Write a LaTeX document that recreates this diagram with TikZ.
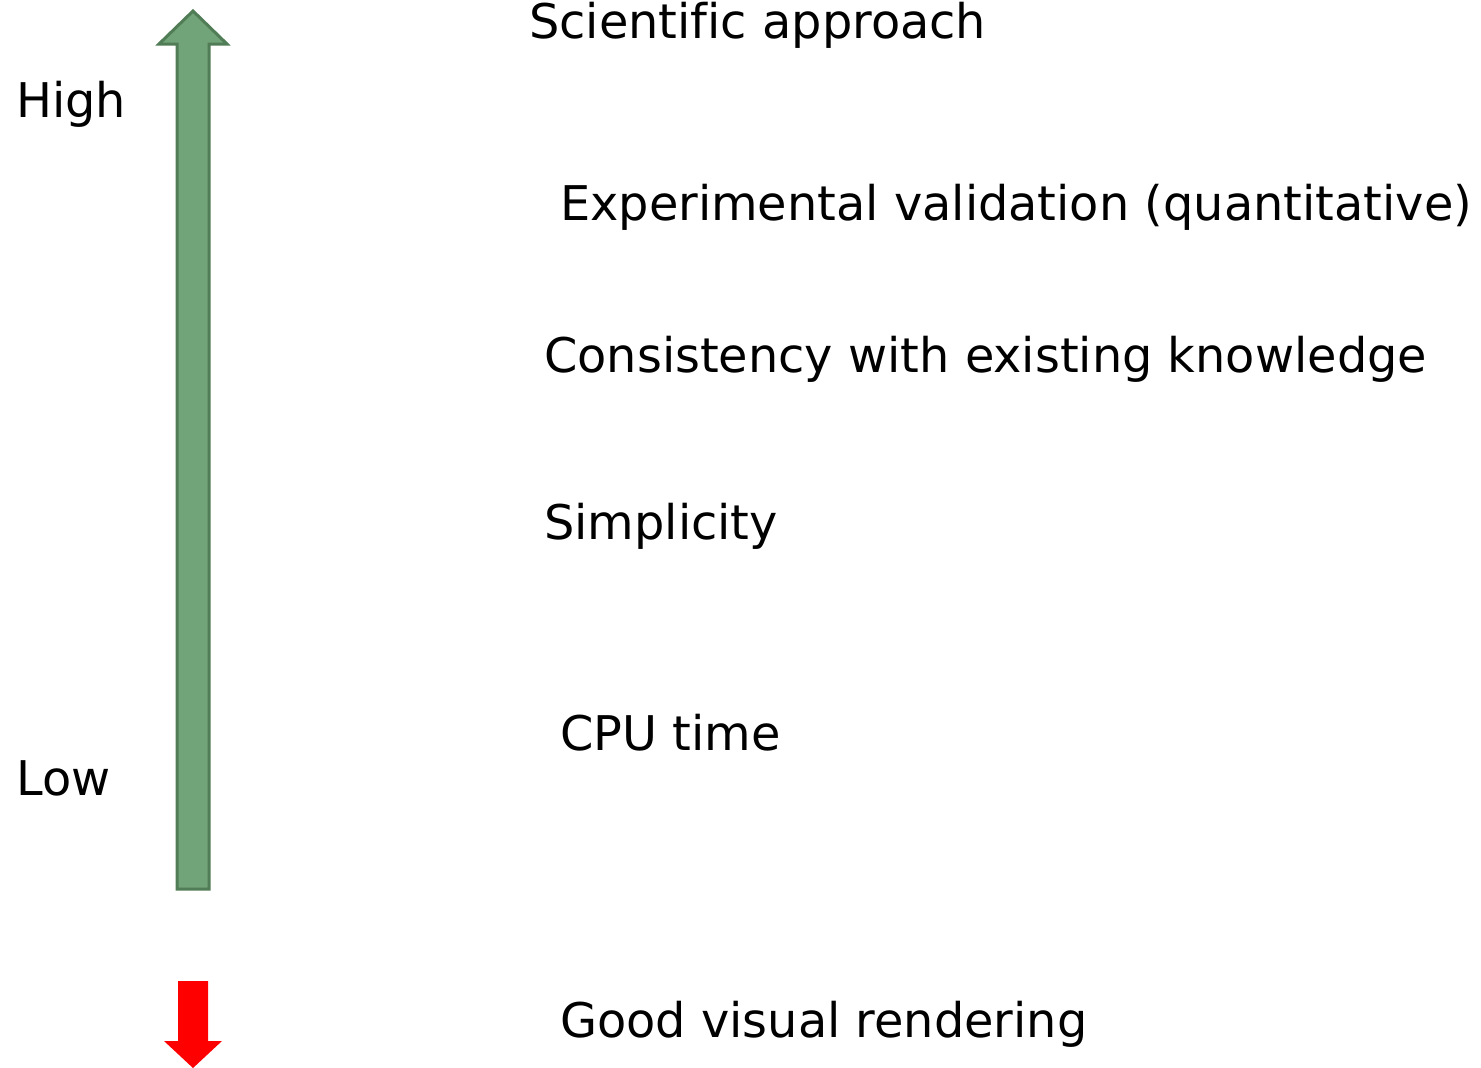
\documentclass[tikz,border=0pt]{standalone}
\usepackage{fontspec}
\setmainfont[Ligatures=NoCommon]{DejaVu Sans}
\usepackage{xcolor}
\usetikzlibrary{positioning,calc}

\definecolor{arrowfill}{HTML}{72A479}
\definecolor{arrowedge}{HTML}{507C56}

\begin{document}
\begin{tikzpicture}[x=1pt, y=-1pt,
    lbl/.style={anchor=base west, inner sep=0pt, font=\fontsize{47.8}{57}\selectfont}]
        \useasboundingbox (0,0) rectangle (1481,1068);

        % Scale arrow (green, pointing up)
        \draw[arrowedge, fill=arrowfill, line width=3pt, line join=miter]
            (193,11) -- (227,44) -- (209,44) -- (209,889) -- (177,889)
            -- (177,44) -- (159,44) -- cycle;

        % Red arrow (pointing down)
        \fill[red] (178,981) -- (208,981) -- (208,1041) -- (222,1041)
            -- (193,1068) -- (164,1041) -- (178,1041) -- cycle;

        % Scale ends
        \node[lbl] (high) at (16,117) {High};
        \node[lbl] (low) at (16,795) {Low};

        % Criteria
        \node[lbl] (sci) at (529,38) {Scientific approach};
        \node[lbl] (exp) at (560,220) {Experimental validation (quantitative)};
        \node[lbl] (cons) at (544,372) {Consistency with existing knowledge};
        \node[lbl] (simp) at (544,539) {Simplicity};
        \node[lbl] (cpu) at (560,750) {CPU time};
        \node[lbl] (good) at (560,1037) {Good visual rendering};
    \end{tikzpicture}
\end{document}
